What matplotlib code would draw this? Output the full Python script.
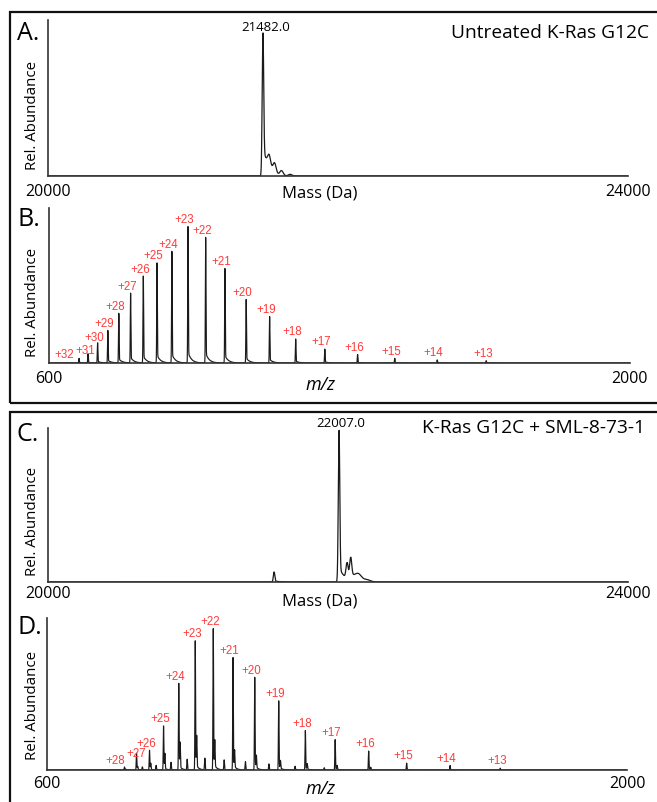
import numpy as np
import matplotlib
matplotlib.use("Agg")
import matplotlib.pyplot as plt
from matplotlib.patches import Rectangle

# --- deconvoluted masses (panels A and C) ---
mass_a = [21482, 21525, 21562, 21610, 21670]
abund_a = [0.90, 0.08, 0.065, 0.03, 0.01]

mass_c = [21559, 22007, 22062, 22087, 22140, 22200]
abund_c = [0.065, 0.98, 0.10, 0.13, 0.04, 0.012]

# --- charge state envelope, untreated (panel B) ---
charges_b = [32, 31, 30, 29, 28, 27, 26, 25, 24, 23, 22, 21, 20, 19, 18, 17, 16, 15, 14, 13]
mz_b = [672.3, 694.0, 717.1, 741.8, 768.2, 796.6, 827.2, 860.3, 896.1, 935.0,
        977.5, 1024.0, 1075.1, 1131.6, 1194.4, 1264.6, 1343.6, 1433.1, 1535.4, 1653.5]
abund_b = [0.03, 0.06, 0.13, 0.21, 0.32, 0.45, 0.56, 0.645, 0.72, 0.88,
           0.81, 0.61, 0.41, 0.30, 0.155, 0.09, 0.055, 0.03, 0.02, 0.015]

# --- charge state envelope, + SML-8-73-1 (panel D) ---
charges_d = [28, 27, 26, 25, 24, 23, 22, 21, 20, 19, 18, 17, 16, 15, 14, 13]
mz_d = [787.0, 816.1, 847.4, 881.3, 918.0, 957.8, 1001.3, 1049.0, 1101.4, 1159.3,
        1223.6, 1295.5, 1376.4, 1468.1, 1572.9, 1693.9]
abund_d = [0.02, 0.11, 0.13, 0.29, 0.57, 0.85, 0.93, 0.74, 0.61, 0.455,
           0.26, 0.20, 0.125, 0.045, 0.03, 0.012]
# adduct shoulders next to each main peak
mz_d_adduct = [789.8, 819.0, 850.5, 884.5, 921.3, 961.3, 1005.0, 1052.8, 1105.4,
               1163.5, 1228.1, 1300.2, 1381.4]
abund_d_adduct = [0.005, 0.02, 0.04, 0.10, 0.165, 0.20, 0.17, 0.11, 0.08,
                  0.05, 0.035, 0.025, 0.015]
# minor species between the main peaks
mz_d_minor = [830.2, 863.4, 899.3, 938.3, 981.0, 1027.6, 1079.0, 1135.7, 1198.7, 1269.2]
abund_d_minor = [0.02, 0.03, 0.05, 0.07, 0.077, 0.066, 0.055, 0.04, 0.025, 0.015]

W, H = 657, 802
fig = plt.figure(figsize=(W / 100, H / 100), dpi=100)

RED = "#ff3b3b"
LINE = "#1a1a1a"
TXT_FONT = ["Open Sans", "DejaVu Sans"]
LBL_FONT = ["Liberation Sans", "DejaVu Sans"]

# label nudges (points) where charge labels crowd each other
nudge_b = {32: (-8, -2.6), 31: (0.5, -2.7), 30: (0, -1.5)}
nudge_d = {28: (-4.4, -0.5), 27: (2.5, -5.5)}


def px_axes(left, top, right, bottom):
    return fig.add_axes([left / W, 1 - bottom / H, (right - left) / W, (bottom - top) / H])


def spectrum(x, centers, heights, sigma, tail, tau):
    y = np.zeros_like(x)
    for c, h in zip(centers, heights):
        y += h * np.exp(-0.5 * ((x - c) / sigma) ** 2)
        d = x - c
        t = np.where(d > 0, np.exp(-d / tau) * (1 - np.exp(-d / sigma)), 0.0)
        y += h * tail * t
    return y


def style_axes(ax, xlim, pad):
    ax.set_xlim(*xlim)
    ax.set_ylim(0, 1)
    for s in ["top", "right"]:
        ax.spines[s].set_visible(False)
    for s in ["left", "bottom"]:
        ax.spines[s].set_color("#333333")
        ax.spines[s].set_linewidth(1.2)
    ax.set_yticks([])
    ax.set_xticks(list(xlim))
    ax.set_xticklabels([str(v) for v in xlim], fontsize=11.5, family=TXT_FONT)
    ax.tick_params(axis="x", length=0, pad=pad)
    ax.patch.set_alpha(0)


def charge_labels(ax, charges, mzs, abunds, nudge):
    for z, m, a in zip(charges, mzs, abunds):
        dx, dy = nudge.get(z, (0, 0))
        ax.annotate(f"+{z}", (m, a), xytext=(-2.5 + dx, 0.5 + dy), textcoords="offset points",
                    ha="center", va="bottom", fontsize=8.3, color=RED, family=LBL_FONT)


def fig_text(x, y, s, **kw):
    fig.text(x / W, 1 - y / H, s, **kw)


# --- panel A ---
ax_a = px_axes(48, 20, 628, 176)
xm = np.linspace(20000, 24000, 8001)
ya = (spectrum(xm, mass_a[:1], abund_a[:1], 5.0, 0.22, 35)
      + spectrum(xm, mass_a[1:], abund_a[1:], 11.0, 0.0, 30))
ax_a.plot(xm, ya, color=LINE, lw=0.9)
style_axes(ax_a, (20000, 24000), 6)
ax_a.annotate("21482.0", (mass_a[0], abund_a[0]), xytext=(2, 1), textcoords="offset points",
              ha="center", va="bottom", fontsize=9.5, family=TXT_FONT)

# --- panel B ---
ax_b = px_axes(49, 208, 630, 363)
xz = np.linspace(600, 2000, 14001)
ax_b.plot(xz, spectrum(xz, mz_b, abund_b, 0.7, 0.08, 8), color=LINE, lw=0.85)
style_axes(ax_b, (600, 2000), 6)
charge_labels(ax_b, charges_b, mz_b, abund_b, nudge_b)

# --- panel C ---
ax_c = px_axes(48, 428, 628, 582)
yc = (spectrum(xm, mass_c[:2], abund_c[:2], 5.0, 0.10, 40)
      + spectrum(xm, mass_c[2:4], abund_c[2:4], 7.0, 0.25, 40)
      + spectrum(xm, mass_c[4:], abund_c[4:], 22.0, 0.0, 40))
ax_c.plot(xm, yc, color=LINE, lw=0.9)
style_axes(ax_c, (20000, 24000), 3)
ax_c.annotate("22007.0", (mass_c[1], abund_c[1]), xytext=(1, 1), textcoords="offset points",
              ha="center", va="bottom", fontsize=9.5, family=TXT_FONT)

# --- panel D ---
ax_d = px_axes(47, 618, 627, 770)
yd = (spectrum(xz, mz_d, abund_d, 0.7, 0.06, 6)
      + spectrum(xz, mz_d_adduct, abund_d_adduct, 0.8, 0.0, 6)
      + spectrum(xz, mz_d_minor, abund_d_minor, 0.8, 0.0, 6))
ax_d.plot(xz, yd, color=LINE, lw=0.85)
style_axes(ax_d, (600, 2000), 4)
charge_labels(ax_d, charges_d, mz_d, abund_d, nudge_d)

# --- axis titles and panel letters ---
for y in [115, 303, 521, 705]:
    fig_text(33, y, "Rel. Abundance", rotation=90, ha="center", va="center",
             fontsize=10.8, family=TXT_FONT)
for y in [193, 601]:
    fig_text(320, y, "Mass (Da)", ha="center", va="center", fontsize=12, family=TXT_FONT)
for y in [385, 789]:
    fig_text(320, y, "m/z", ha="center", va="center", fontsize=13, style="italic",
             family=TXT_FONT)

for s, y in [("A.", 34), ("B.", 219), ("C.", 434), ("D.", 627)]:
    fig_text(17, y, s, ha="left", va="center", fontsize=18, family=TXT_FONT)

fig_text(649, 33, "Untreated K-Ras G12C", ha="right", va="center", fontsize=13.8,
         family=TXT_FONT)
fig_text(645, 428, "K-Ras G12C + SML-8-73-1", ha="right", va="center", fontsize=13.8,
         family=TXT_FONT)

# --- frames around the two figure halves ---
for top, bottom in [(12, 403), (412, 840)]:
    fig.add_artist(Rectangle((10 / W, 1 - bottom / H), (720 - 10) / W, (bottom - top) / H,
                             transform=fig.transFigure, fill=False, lw=1.6, ec="#111111"))

fig.savefig("out.png", dpi=100)
